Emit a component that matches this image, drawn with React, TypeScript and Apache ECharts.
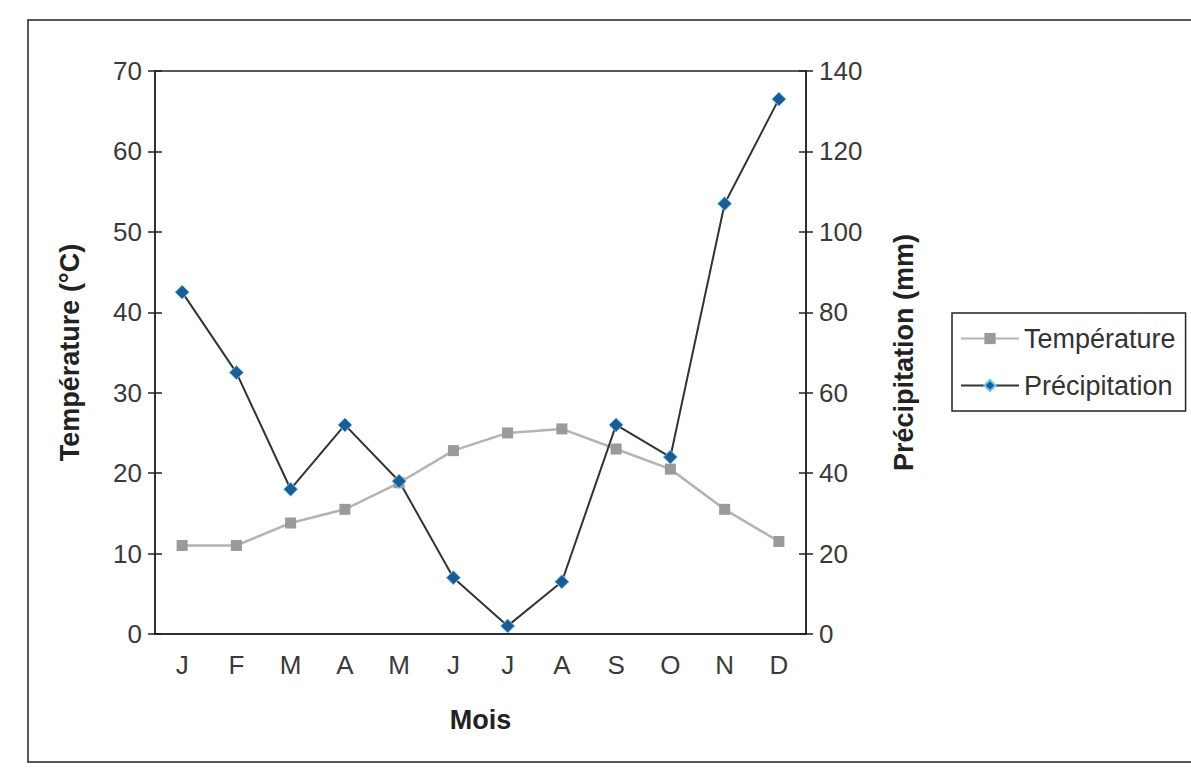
import React, { useEffect, useRef } from "react";
import * as echarts from "echarts";

const months = ["J", "F", "M", "A", "M", "J", "J", "A", "S", "O", "N", "D"];
const temperature = [11, 11, 13.8, 15.5, 18.8, 22.8, 25, 25.5, 23, 20.5, 15.5, 11.5];
const precipitation = [85, 65, 36, 52, 38, 14, 2, 13, 52, 44, 107, 133];
const leftTicks = { min: 0, max: 70, interval: 10 };
const rightTicks = { min: 0, max: 140, interval: 20 };

const FONT = "'Liberation Sans', Arial, sans-serif";

export default function App() {
  const ref = useRef<HTMLDivElement>(null);
  useEffect(() => {
    if (!ref.current) return;
    const chart = echarts.init(ref.current, undefined, { renderer: "svg" });
    const labelStyle = { color: "#3a3a3a", fontSize: 26, fontFamily: FONT };
    const nameStyle = { color: "#222", fontSize: 27, fontWeight: "bold" as const, fontFamily: FONT };
    chart.setOption({
      animation: false,
      backgroundColor: "#fff",
      graphic: [
        {
          type: "rect",
          shape: { x: 28, y: 20, width: 1175, height: 742 },
          style: { fill: "none", stroke: "#222", lineWidth: 1.5 },
          silent: true,
        },
      ],
      grid: {
        left: 155,
        right: 385,
        top: 71,
        bottom: 141,
        show: true,
        borderColor: "#222",
        borderWidth: 1.5,
        backgroundColor: "transparent",
      },
      legend: {
        orient: "vertical",
        left: 952,
        top: 313,
        itemWidth: 58,
        itemHeight: 14,
        itemGap: 20,
        padding: [12, 10, 12, 8],
        borderColor: "#222",
        borderWidth: 1.5,
        backgroundColor: "#fff",
        textStyle: { color: "#333", fontSize: 27, fontFamily: FONT },
        data: ["Température", "Précipitation"],
      },
      xAxis: {
        type: "category",
        data: months,
        boundaryGap: true,
        name: "Mois",
        nameLocation: "middle",
        nameGap: 72,
        nameTextStyle: nameStyle,
        axisLine: { lineStyle: { color: "#222", width: 1.5 } },
        axisTick: { show: false },
        axisLabel: { ...labelStyle, margin: 18 },
      },
      yAxis: [
        {
          type: "value",
          position: "left",
          ...leftTicks,
          name: "Température (°C)",
          nameLocation: "middle",
          nameGap: 72,
          nameRotate: 90,
          nameTextStyle: nameStyle,
          axisLine: { show: true, lineStyle: { color: "#222", width: 1.5 } },
          axisTick: { show: true, length: 7, lineStyle: { color: "#222", width: 1.5 } },
          axisLabel: { ...labelStyle, margin: 13 },
          splitLine: { show: false },
        },
        {
          type: "value",
          position: "right",
          ...rightTicks,
          name: "Précipitation (mm)",
          nameLocation: "middle",
          nameGap: 84,
          nameRotate: 90,
          nameTextStyle: nameStyle,
          axisLine: { show: true, lineStyle: { color: "#222", width: 1.5 } },
          axisTick: { show: true, length: 7, lineStyle: { color: "#222", width: 1.5 } },
          axisLabel: { ...labelStyle, margin: 13 },
          splitLine: { show: false },
        },
        {
          type: "value",
          position: "left",
          ...leftTicks,
          axisLine: { show: false },
          axisTick: { show: true, inside: true, length: 7, lineStyle: { color: "#222", width: 1.5 } },
          axisLabel: { show: false },
          splitLine: { show: false },
        },
        {
          type: "value",
          position: "right",
          ...rightTicks,
          axisLine: { show: false },
          axisTick: { show: true, inside: true, length: 7, lineStyle: { color: "#222", width: 1.5 } },
          axisLabel: { show: false },
          splitLine: { show: false },
        },
      ],
      series: [
        {
          name: "Température",
          type: "line",
          yAxisIndex: 0,
          data: temperature,
          symbol: "rect",
          symbolSize: 11,
          lineStyle: { color: "#b4b4b4", width: 2.5 },
          itemStyle: { color: "#9a9a9a" },
        },
        {
          name: "Précipitation",
          type: "line",
          yAxisIndex: 1,
          data: precipitation,
          symbol: "diamond",
          symbolSize: 14,
          lineStyle: { color: "#333", width: 2 },
          itemStyle: { color: "#1d5b94", borderColor: "#6cc9f0", borderWidth: 1 },
        },
      ],
    });
    return () => chart.dispose();
  }, []);
  return (
    <div
      ref={ref}
      style={{ position: "fixed", left: 0, top: 0, width: 1191, height: 775, background: "#fff" }}
    />
  );
}
